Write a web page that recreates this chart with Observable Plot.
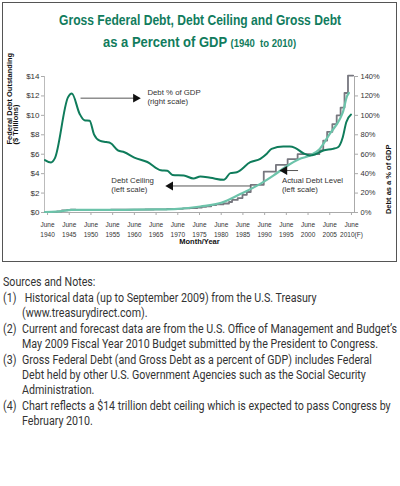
<!DOCTYPE html>
<html><head><meta charset="utf-8">
<script src="https://cdn.jsdelivr.net/npm/d3@7"></script>
<script src="https://cdn.jsdelivr.net/npm/@observablehq/plot@0.6"></script>
<style>
html,body{margin:0;padding:0;background:#fff;}
#wrap{position:relative;width:400px;height:486px;overflow:hidden;font-family:"Liberation Sans",Arial,sans-serif;}
#box{position:absolute;left:2px;top:2px;width:395px;height:260px;border:1.3px solid #555;box-sizing:border-box;}
#chart{position:absolute;left:0;top:0;}
.tl{position:absolute;left:0;width:400px;text-align:center;white-space:nowrap;color:#117c5d;font-family:"Liberation Sans",sans-serif;font-weight:bold;}
.tl span.in{display:inline-block;transform-origin:center;}
#notes{position:absolute;left:3px;top:275px;color:#333;font-family:Roboto,"Liberation Sans",sans-serif;font-size:12px;line-height:14.8px;transform-origin:left top;white-space:nowrap;}
#notes .row{display:flex;}
#notes .row.first{margin-top:1.5px;}
#notes .k{display:inline-block;flex:none;}
</style></head>
<body><div id="wrap">
<div id="box"></div>
<div id="chart"></div>
<div class="tl" id="t1" style="top:11px;font-size:15px;"><span class="in">Gross Federal Debt, Debt Ceiling and Gross Debt</span></div>
<div class="tl" id="t2" style="top:33px;font-size:15px;"><span class="in">as a Percent of GDP <span style="font-size:11px">(1940&nbsp; to 2010)</span></span></div>
<div id="notes"></div>
</div>
<script>
// Debt as a % of GDP (right scale)
const gdpYears = [1939.4,1940.8,1941.7,1944.7,1945.6,1947.4,1948.5,1949.7,1950.7,1952,1953.5,1954.5,1956.2,1957.7,1960,1963,1966.1,1967.6,1968.8,1971.4,1973.6,1975.2,1977.5,1980.6,1982.1,1983.6,1986.7,1989,1990.5,1991.6,1994.3,1995.8,1997,1998.9,2000.4,2001.6,2003.5,2005.7,2006.9,2008,2008.8,2009.9];
const gdpPct   = [54,51.5,56,118.5,122.5,101.5,95,94.5,80.5,74,72.5,71.5,64,62,56.5,52,43.5,43,38.5,38,35,37,35.7,33.6,40.5,41.5,51.8,55.2,60.4,65.5,67.9,67.9,66.6,61,58.6,59.7,63.8,65.5,67.2,77.5,92.9,100.8];
// Actual debt level, $ trillions (left scale)
const debtYears = [1939.4,1942,1944,1945.5,1950,1955,1960,1965,1970,1975.2,1980,1984.4,1989,1992,1995,1998,2000.4,2002.7,2005,2007.3,2008,2009,2009.4];
const debtTril  = [0.05,0.08,0.2,0.26,0.26,0.27,0.29,0.32,0.38,0.62,1.0,1.9,2.95,3.8,4.74,5.5,5.87,6.55,8.1,9.6,10.3,12.0,12.3];
// Debt ceiling, $ trillions (left scale), stepped
const ceilYears = [1939.4,1941.1,1942.2,1943.3,1944.5,1945.3,1946.5,1954.6,1959.5,1962.5,1964.5,1967.5,1969.5,1971.2,1972.8,1974.5,1975.5,1976.5,1977.7,1978.8,1980.5,1981.8,1982.5,1983.8,1984.9,1985.9,1986.8,1989.8,1992.6,1995.3,1997.6,2002.6,2003.5,2004.4,2005.6,2006.6,2007.5,2008.4,2009.2,2010.4];
const ceilTril  = [0.045,0.065,0.125,0.21,0.26,0.30,0.275,0.281,0.295,0.308,0.324,0.358,0.377,0.43,0.465,0.495,0.577,0.636,0.752,0.83,0.925,1.079,1.29,1.49,1.824,2.111,2.85,4.2,4.9,5.5,6.0,6.4,7.4,8.3,9.1,10.0,10.8,12.3,14.1,14.1];
// Axes
const leftTicks  = [0,2,4,6,8,10,12,14];
const rightTicks = [0,20,40,60,80,100,120,140];
const xTicks     = [1940,1945,1950,1955,1960,1965,1970,1975,1980,1985,1990,1995,2000,2005,2010];
const xTickLabels = ["1940","1945","1950","1955","1960","1965","1970","1975","1980","1985","1990","1995","2000","2005","2010(F)"];
// Annotations (anchor in data units)
const labels = [
  {x:1963, y:11.95, text:"Debt % of GDP\n(right scale)"},
  {x:1954.7, y:2.83, text:"Debt Ceiling\n(left scale)"},
  {x:1994.0, y:2.83, text:"Actual Debt Level\n(left scale)"}
];
const arrows = [
  {x1:1947.6, x2:1960.3, y:11.77, dir:"right"},
  {x1:1968.3, x2:1986.8, y:2.73, dir:"left"},
  {x1:1994.6, x2:1997.7, y:4.32, dir:"left"}
];
const notes = [
  ["(1)", ["\u00a0Historical data (up to September 2009) from the U.S. Treasury", "(www.treasurydirect.com)."]],
  ["(2)", ["Current and forecast data are from the U.S. Office of Management and Budget\u2019s", "May 2009 Fiscal Year 2010 Budget submitted by the President to Congress."]],
  ["(3)", ["Gross Federal Debt (and Gross Debt as a percent of GDP) includes Federal", "Debt held by other U.S. Government Agencies such as the Social Security", "Administration."]],
  ["(4)", ["Chart reflects a $14 trillion debt ceiling which is expected to pass Congress by", "February 2010."]]
];

const gdp = gdpYears.map((x,i)=>({x, y: gdpPct[i]/10}));
const debt = debtYears.map((x,i)=>({x, y: debtTril[i]}));
const ceil = ceilYears.map((x,i)=>({x, y: ceilTril[i]}));
const heads = arrows.map(a=>({x: a.dir==="right"?a.x2:a.x1, y:a.y, rot: a.dir==="right"?90:-90}));

const chart = Plot.plot({
  width: 400, height: 262,
  marginLeft: 44, marginRight: 46, marginTop: 76, marginBottom: 50,
  x: {domain: [1939.3, 2010.7]},
  y: {domain: [0, 14]},
  style: {background: "transparent", fontFamily: "'Liberation Sans', Arial, sans-serif", color: "#444"},
  marks: [
    Plot.axisY(leftTicks, {anchor: "left", tickFormat: d => "$" + d, tickSize: 3, tickPadding: 2, fontSize: 8, stroke: "#aaa", fill: "#333", label: null}),
    Plot.axisY(rightTicks.map(d => d/10), {anchor: "right", tickFormat: d => Math.round(d*10) + "%", tickSize: 3, tickPadding: 3, fontSize: 7.5, stroke: "#aaa", fill: "#333", label: null}),
    Plot.axisX(xTicks, {anchor: "bottom", tickFormat: (d) => "June\n" + xTickLabels[xTicks.indexOf(d)], tickSize: 3, tickPadding: 5, fontSize: 6.5, lineHeight: 1.5, stroke: "#aaa", fill: "#333", label: null}),
    Plot.frame({anchor: "left", stroke: "#bbb"}),
    Plot.frame({anchor: "right", stroke: "#aaa"}),
    Plot.frame({anchor: "bottom", stroke: "#aaa"}),
    Plot.line(ceil, {x: "x", y: "y", curve: "step-after", stroke: "#77777f", strokeWidth: 1.8}),
    Plot.line(debt, {x: "x", y: "y", curve: "monotone-x", stroke: "#6cc3aa", strokeWidth: 2.2}),
    Plot.line(gdp, {x: "x", y: "y", curve: "monotone-x", stroke: "#0f7c5b", strokeWidth: 2}),
    Plot.link(arrows, {x1: "x1", x2: "x2", y1: "y", y2: "y", stroke: "#555", strokeWidth: 1}),
    Plot.dot(heads, {x: "x", y: "y", symbol: "triangle", r: 3.3, fill: "#111", rotate: "rot"}),
    Plot.text(labels, {x: "x", y: "y", text: "text", textAnchor: "start", lineAnchor: "middle", fontSize: 7.8, lineHeight: 1.15, fill: "#333"}),
    Plot.text(["Federal Debt Outstanding\n($ Trillions)"], {frameAnchor: "left", dx: -31, rotate: -90, fontSize: 7.5, fontWeight: "bold", lineHeight: 0.8, fill: "#111"}),
    Plot.text(["Debt as a % of GDP"], {frameAnchor: "right", dx: 34, rotate: -90, fontSize: 7.5, fontWeight: "bold", fill: "#111"}),
    Plot.text(["Month/Year"], {frameAnchor: "bottom", dy: 26, lineAnchor: "top", fontSize: 7.5, fontWeight: "bold", fill: "#111"})
  ]
});
document.getElementById("chart").appendChild(chart);

// notes: one div per line, then condense horizontally to the reference width
const nd = document.getElementById("notes");
let html = '<div>Sources and Notes:</div>';
for (const [k, lines] of notes) {
  lines.forEach((t, j) => {
    html += `<div class="row${j===0?" first":""}"><span class="k">${j===0?k:""}</span><span class="t">${t}</span></div>`;
  });
}
nd.innerHTML = html;
const ref = nd.querySelectorAll(".row .t")[2]; // "(2)" first line: spans x 22..397 in the reference
const f = 375 / ref.getBoundingClientRect().width;
nd.style.transform = `scaleX(${f})`;
nd.querySelectorAll(".k").forEach(k => k.style.width = (19 / f) + "px");

// fit title widths to the reference
const targets = {t1: 282, t2: 193};
for (const id in targets) {
  const s = document.querySelector("#" + id + " span.in");
  const w = s.getBoundingClientRect().width;
  s.style.transform = `scaleX(${targets[id]/w})`;
}
</script>
</body></html>
